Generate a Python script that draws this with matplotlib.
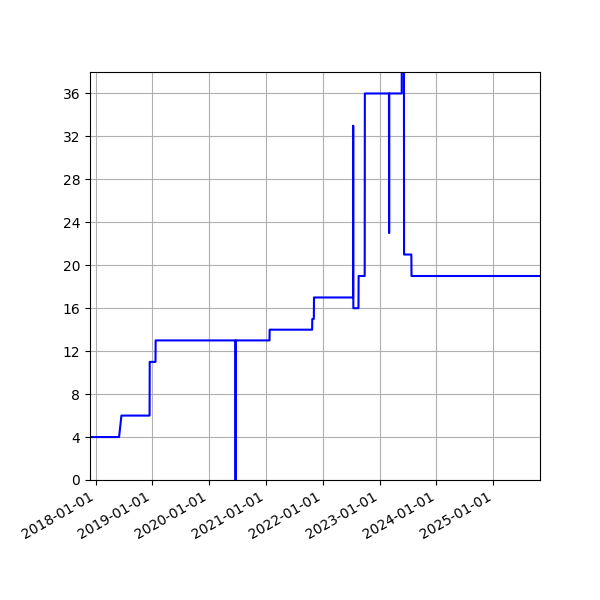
import matplotlib
matplotlib.use('Agg')
import matplotlib.pyplot as plt
import matplotlib.dates as mdates
import pandas as pd

# Values
dates = [
    "2017-11-26", "2018-06-01", "2018-06-16", "2018-12-14", "2018-12-15",
    "2019-01-21", "2019-01-22", "2020-06-18", "2020-06-19", "2020-06-20",
    "2021-01-23", "2021-01-24", "2021-10-24", "2021-10-25", "2021-11-04",
    "2021-11-05", "2022-07-14", "2022-07-15", "2022-07-16", "2022-08-18",
    "2022-08-19", "2022-09-27", "2022-09-28", "2023-03-02", "2023-03-03",
    "2023-03-04", "2023-05-23", "2023-05-24", "2023-06-06", "2023-06-07",
    "2023-07-24", "2023-07-25", "2025-10-28",
]
values = [
    4, 4, 6, 6, 11,
    11, 13, 13, 0, 13,
    13, 14, 14, 15, 15,
    17, 17, 33, 16, 16,
    19, 19, 36, 36, 23,
    36, 36, 45, 45, 21,
    21, 19, 19,
]
x_start = "2017-11-26"
x_end = "2025-10-28"
y_ticks = list(range(0, 37, 4))

x = pd.to_datetime(dates)

fig, ax = plt.subplots(figsize=(6, 6), dpi=100)
ax.plot(x, values, color='blue')

ax.set_xlim(pd.Timestamp(x_start), pd.Timestamp(x_end))
ax.set_ylim(0, 38)
ax.set_yticks(y_ticks)
ax.xaxis.set_major_locator(mdates.YearLocator())
ax.xaxis.set_major_formatter(mdates.DateFormatter('%Y-%m-%d'))
ax.grid(True)

fig.autofmt_xdate()
fig.subplots_adjust(left=0.15, right=0.9, bottom=0.2, top=0.88)
plt.savefig("out.png", dpi=100)
plt.close()
